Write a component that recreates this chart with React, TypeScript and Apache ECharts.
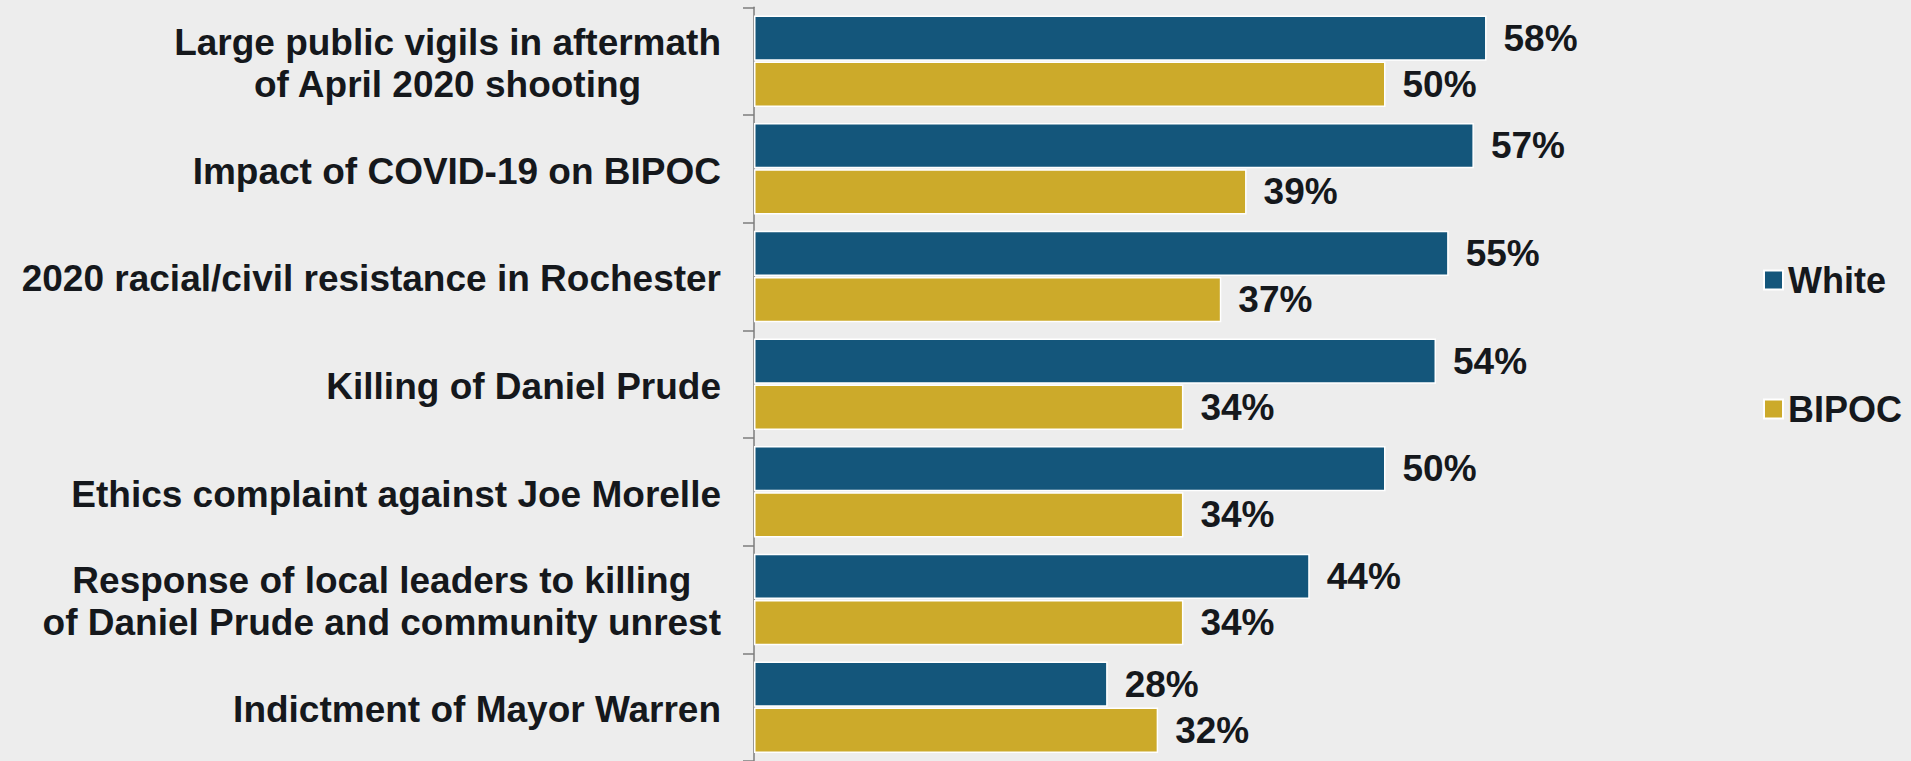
import React, { useEffect, useRef } from "react";
import * as echarts from "echarts";

const categories = [
  "Large public vigils in aftermath\nof April 2020 shooting",
  "Impact of COVID-19 on BIPOC",
  "2020 racial/civil resistance in Rochester",
  "Killing of Daniel Prude",
  "Ethics complaint against Joe Morelle",
  "Response of local leaders to killing\nof Daniel Prude and community unrest",
  "Indictment of Mayor Warren",
];
const whiteValues = [58, 57, 55, 54, 50, 44, 28];
const bipocValues = [50, 39, 37, 34, 34, 34, 32];
const seriesNames = ["White", "BIPOC"];

const FONT = '"Liberation Sans", Arial, Helvetica, sans-serif';
const TEXT = "#15181c";
const BLUE = "#14567b";
const GOLD = "#ccaa2a";

export default function App() {
  const ref = useRef<HTMLDivElement>(null);
  useEffect(() => {
    if (!ref.current) return;
    const chart = echarts.init(ref.current, null, { renderer: "svg" });
    const barLabel = {
      show: true,
      position: "right",
      distance: 17,
      formatter: "{c}%",
      fontFamily: FONT,
      fontWeight: "bold",
      fontSize: 37,
      color: TEXT,
      padding: [4, 0, 0, 0],
    };
    chart.setOption({
      animation: false,
      backgroundColor: "#ededed",
      textStyle: { fontFamily: FONT },
      legend: {
        orient: "vertical",
        left: 1758,
        top: 255,
        itemWidth: 19,
        itemHeight: 19,
        itemGap: 89,
        icon: "rect",
        data: seriesNames,
        textStyle: {
          fontFamily: FONT,
          fontWeight: "bold",
          fontSize: 36,
          color: TEXT,
          lineHeight: 40,
          padding: [0, 0, 0, 0],
        },
      },
      grid: {
        left: 754,
        top: 7.3,
        height: 758.8,
        width: 1010.4,
        containLabel: false,
      },
      xAxis: {
        type: "value",
        min: 0,
        max: 80,
        show: false,
      },
      yAxis: {
        type: "category",
        inverse: true,
        data: categories,
        axisLine: { show: true, lineStyle: { color: "#7d7d7d", width: 1.5 } },
        axisTick: { show: true, length: 11, lineStyle: { color: "#7d7d7d", width: 1.5 } },
        axisLabel: {
          margin: 33,
          padding: [5, 0, 0, 0],
          fontFamily: FONT,
          fontWeight: "bold",
          fontSize: 37,
          color: TEXT,
          formatter: (v: string) =>
            v
              .split("\n")
              .map((l) => `{c|${l}}`)
              .join("\n"),
          rich: {
            c: {
              align: "center",
              fontFamily: FONT,
              fontWeight: "bold",
              fontSize: 37,
              lineHeight: 42,
              color: TEXT,
            },
          },
        },
      },
      series: [
        {
          name: seriesNames[0],
          type: "bar",
          data: whiteValues,
          barCategoryGap: "15%",
          barGap: "2%",
          itemStyle: { color: BLUE, borderColor: "#ffffff", borderWidth: 1.5 },
          label: barLabel,
        },
        {
          name: seriesNames[1],
          type: "bar",
          data: bipocValues,
          barCategoryGap: "15%",
          barGap: "2%",
          itemStyle: { color: GOLD, borderColor: "#ffffff", borderWidth: 1.5 },
          label: barLabel,
        },
      ],
    });
    return () => chart.dispose();
  }, []);
  return (
    <div
      ref={ref}
      style={{ position: "fixed", left: 0, top: 0, width: 1911, height: 761 }}
    />
  );
}
